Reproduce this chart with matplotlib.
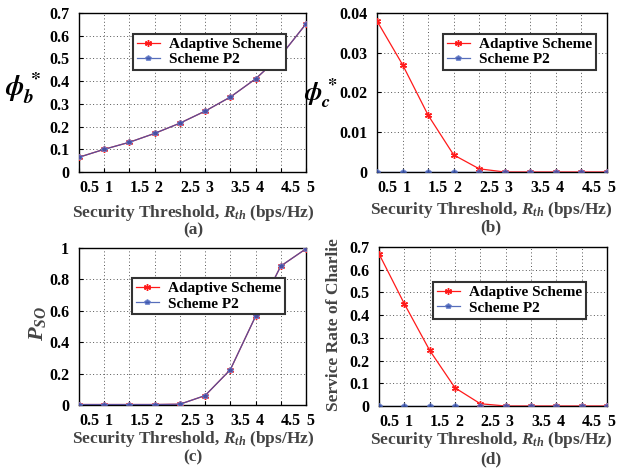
import matplotlib
matplotlib.use("Agg")
import matplotlib.pyplot as plt
import numpy as np

# Données
r_th = [0.5, 1.0, 1.5, 2.0, 2.5, 3.0, 3.5, 4.0, 4.5, 5.0]
xticks = [0.5, 1, 1.5, 2, 2.5, 3, 3.5, 4, 4.5, 5]
xtick_labels = ["0.5", "1", "1.5", "2", "2.5", "3", "3.5", "4", "4.5", "5"]

phi_b_adaptive = [0.065, 0.100, 0.131, 0.170, 0.215, 0.268, 0.330, 0.410, 0.512, 0.652]
phi_b_p2 = [0.065, 0.100, 0.131, 0.170, 0.215, 0.268, 0.330, 0.410, 0.512, 0.652]

phi_c_adaptive = [0.0380, 0.0270, 0.0143, 0.0043, 0.0008, 0.0, 0.0, 0.0, 0.0, 0.0]
phi_c_p2 = [0.0, 0.0, 0.0, 0.0, 0.0, 0.0, 0.0, 0.0, 0.0, 0.0]

pso_adaptive = [0.003, 0.003, 0.003, 0.003, 0.005, 0.060, 0.225, 0.565, 0.885, 0.995]
pso_p2 = [0.003, 0.003, 0.003, 0.003, 0.005, 0.060, 0.225, 0.565, 0.885, 0.995]

rate_adaptive = [0.670, 0.450, 0.245, 0.080, 0.010, 0.0, 0.0, 0.0, 0.0, 0.0]
rate_p2 = [0.0, 0.0, 0.0, 0.0, 0.0, 0.0, 0.0, 0.0, 0.0, 0.0]

plt.rcParams['font.family'] = ['Liberation Serif', 'DejaVu Serif']
plt.rcParams['font.weight'] = 'bold'
plt.rcParams['mathtext.fontset'] = 'custom'
plt.rcParams['mathtext.rm'] = 'Liberation Serif:bold'
plt.rcParams['mathtext.it'] = 'Liberation Serif:italic:bold'
plt.rcParams['mathtext.bf'] = 'Liberation Serif:bold'

W, H = 632, 471
fig = plt.figure(figsize=(W / 100, H / 100), dpi=100)

red = '#ff1a1a'
blue = '#3a55b0'
gray = '#444444'
asterisk = (6, 2, 0)


def px_axes(left, top, right, bottom):
    return fig.add_axes([left / W, 1 - bottom / H, (right - left) / W, (bottom - top) / H])


def draw_panel(ax, y1, y2, ylim, yticks, ytick_fmt, legend_box):
    ax.plot(r_th, y1, color=red, lw=0.9, marker=asterisk, ms=5, mew=1.0,
            label='Adaptive Scheme', zorder=3)
    ax.plot(r_th, y2, color=blue, lw=0.9, marker='p', ms=4, mfc=blue, mec='#6f86d0',
            mew=0.6, alpha=0.85, label='Scheme P2', zorder=4)
    ax.set_xlim(0.5, 5)
    ax.set_ylim(*ylim)
    ax.set_xticks(xticks)
    ax.set_xticklabels(xtick_labels, ha='left')
    ax.set_yticks(yticks)
    ax.set_yticklabels([ytick_fmt(v) for v in yticks])
    ax.tick_params(direction='in', length=3, labelsize=11.5, width=0.8)
    ax.tick_params(axis='x', pad=6)
    ax.tick_params(axis='y', pad=7)
    ax.grid(True, linestyle=(0, (1, 2.5)), color='#555555', lw=0.7)
    for s in ax.spines.values():
        s.set_linewidth(1.0)
    leg = ax.legend(loc='upper left', bbox_to_anchor=legend_box, fontsize=11,
                    frameon=True, fancybox=False, borderpad=0.25, labelspacing=0.1,
                    handlelength=1.5, handletextpad=0.6, borderaxespad=0)
    leg.get_frame().set_edgecolor('#333333')
    leg.get_frame().set_linewidth(1.5)
    leg.get_frame().set_alpha(1)
    return ax


def xcaption(ax_center, y_label, y_cap, cap):
    fig.text(ax_center / W, 1 - y_label / H,
             r"Security Threshold, $R_{th}$ (bps/Hz)", ha='center', va='center',
             fontsize=12.5, color=gray)
    fig.text(ax_center / W, 1 - y_cap / H, cap, ha='center', va='center',
             fontsize=12.5, color=gray)


# (a)
ax_a = px_axes(79, 13, 306, 172)
draw_panel(ax_a, phi_b_adaptive, phi_b_p2, (0, 0.7), np.arange(0, 0.71, 0.1),
           lambda v: "0" if v == 0 else "%.1f" % v, (0.238, 0.87))
fig.text(23 / W, 1 - 88 / H, r"$\phi_b^*$", ha='center', va='center', fontsize=20,
         fontweight='normal', math_fontfamily='stix')
xcaption(193, 213, 230, "(a)")

# (b)
ax_b = px_axes(377, 13, 607, 172)
draw_panel(ax_b, phi_c_adaptive, phi_c_p2, (0, 0.04), np.arange(0, 0.041, 0.01),
           lambda v: "0" if v == 0 else "%.2f" % v, (0.287, 0.87))
fig.text(338 / W, 1 - 94 / H, r"$\phi_c^*$", ha='right', va='center', fontsize=19,
         fontweight='normal', math_fontfamily='stix')
xcaption(491, 210, 227, "(b)")

# (c)
ax_c = px_axes(79, 248, 306, 405)
draw_panel(ax_c, pso_adaptive, pso_p2, (0, 1), np.arange(0, 1.01, 0.2),
           lambda v: "0" if v == 0 else ("1" if v > 0.99 else "%.1f" % v), (0.233, 0.81))
fig.text(37 / W, 1 - 323 / H, r"$P_{SO}$", ha='center', va='center', fontsize=16,
         rotation=90, color=gray)
xcaption(193, 439, 457, "(c)")

# (d)
ax_d = px_axes(379, 247, 607, 406)
draw_panel(ax_d, rate_adaptive, rate_p2, (0, 0.7), np.arange(0, 0.71, 0.1),
           lambda v: "0" if v == 0 else "%.1f" % v, (0.237, 0.78))
fig.text(334 / W, 1 - 325 / H, "Service Rate of Charlie", ha='center', va='center',
         fontsize=12.5, rotation=90, color=gray)
xcaption(491, 440, 459, "(d)")

fig.savefig("out.png", dpi=100)
